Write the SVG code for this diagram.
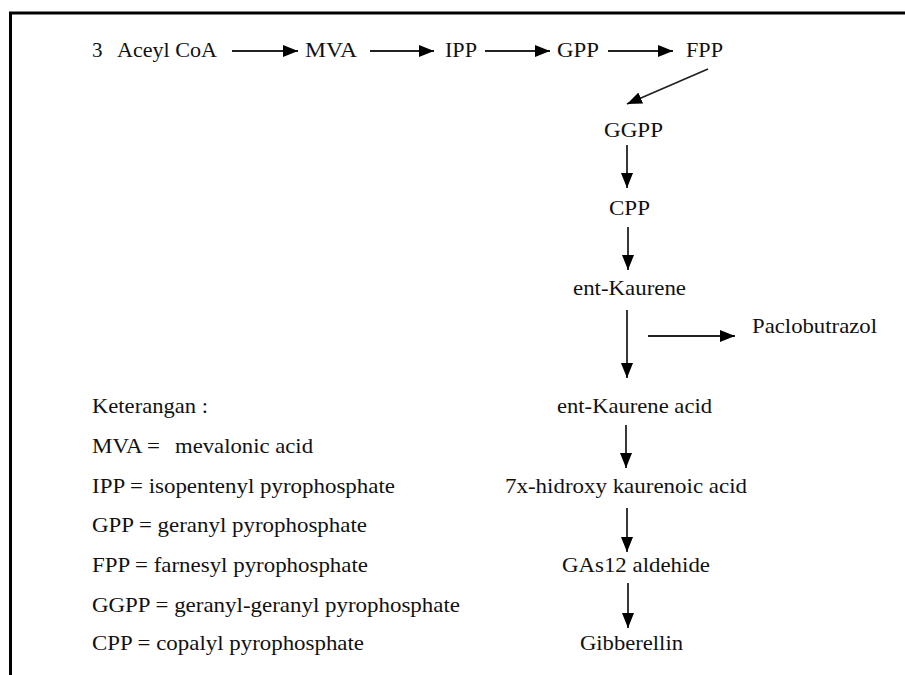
<svg xmlns="http://www.w3.org/2000/svg" width="905" height="675" viewBox="0 0 905 675">
<style>
text{font-family:"Liberation Serif","Times New Roman",serif;font-size:21px;fill:#111;}
.c line{stroke:#222;stroke-width:1.8;marker-end:url(#ah);}
.frame{stroke:#000;stroke-width:3;fill:none;}
</style>
<defs>
<marker id="ah" markerUnits="userSpaceOnUse" markerWidth="15" markerHeight="12" refX="15" refY="6" orient="auto">
<path d="M0,0 L15,6 L0,12 z" fill="#000"/>
</marker>
</defs>
<rect width="905" height="675" fill="#fff"/>
<path class="frame" d="M10.5,675 V13 H905"/>
<g id="acetyl"><text x="92" y="57">3</text><text x="117" y="57" textLength="100" lengthAdjust="spacingAndGlyphs">Aceyl CoA</text></g>
<g id="mva"><text x="305" y="57" textLength="52" lengthAdjust="spacingAndGlyphs">MVA</text></g>
<g id="ipp"><text x="445" y="57" textLength="32" lengthAdjust="spacingAndGlyphs">IPP</text></g>
<g id="gpp"><text x="557" y="57" textLength="42" lengthAdjust="spacingAndGlyphs">GPP</text></g>
<g id="fpp"><text x="686" y="57" textLength="37" lengthAdjust="spacingAndGlyphs">FPP</text></g>
<g id="ggpp"><text x="604" y="137" textLength="59" lengthAdjust="spacingAndGlyphs">GGPP</text></g>
<g id="cpp"><text x="609" y="215" textLength="41" lengthAdjust="spacingAndGlyphs">CPP</text></g>
<g id="entkaurene"><text x="573" y="295" textLength="113" lengthAdjust="spacingAndGlyphs">ent-Kaurene</text></g>
<g id="paclobutrazol"><text x="752" y="333" textLength="125" lengthAdjust="spacingAndGlyphs">Paclobutrazol</text></g>
<g id="entkaureneacid"><text x="557" y="413" textLength="155" lengthAdjust="spacingAndGlyphs">ent-Kaurene acid</text></g>
<g id="hidroxy"><text x="505" y="493" textLength="242" lengthAdjust="spacingAndGlyphs">7x-hidroxy kaurenoic acid</text></g>
<g id="gas12"><text x="562" y="572" textLength="148" lengthAdjust="spacingAndGlyphs">GAs12 aldehide</text></g>
<g id="gibberellin"><text x="580" y="650" textLength="103" lengthAdjust="spacingAndGlyphs">Gibberellin</text></g>
<g id="legend">
<text x="92" y="413" textLength="116" lengthAdjust="spacingAndGlyphs">Keterangan :</text>
<text x="92" y="453" textLength="68" lengthAdjust="spacingAndGlyphs">MVA =</text>
<text x="175" y="453" textLength="138" lengthAdjust="spacingAndGlyphs">mevalonic acid</text>
<text x="92" y="493" textLength="303" lengthAdjust="spacingAndGlyphs">IPP = isopentenyl pyrophosphate</text>
<text x="92" y="532" textLength="275" lengthAdjust="spacingAndGlyphs">GPP = geranyl pyrophosphate</text>
<text x="92" y="572" textLength="276" lengthAdjust="spacingAndGlyphs">FPP = farnesyl pyrophosphate</text>
<text x="92" y="612" textLength="368" lengthAdjust="spacingAndGlyphs">GGPP = geranyl-geranyl pyrophosphate</text>
<text x="92" y="650" textLength="272" lengthAdjust="spacingAndGlyphs">CPP = copalyl pyrophosphate</text>
</g>
<g id="connectors" class="c">
<line x1="232" y1="51" x2="298" y2="51"/>
<line x1="370" y1="51" x2="434" y2="51"/>
<line x1="485" y1="51" x2="550" y2="51"/>
<line x1="608" y1="51" x2="673" y2="51"/>
<line x1="708" y1="69" x2="627" y2="104"/>
<line x1="627" y1="145" x2="627" y2="188"/>
<line x1="628" y1="227" x2="628" y2="270"/>
<line x1="627" y1="310" x2="627" y2="378"/>
<line x1="648" y1="336" x2="735" y2="336"/>
<line x1="626" y1="425" x2="626" y2="468"/>
<line x1="627" y1="508" x2="627" y2="552"/>
<line x1="628" y1="583" x2="628" y2="628"/>
</g>
</svg>
